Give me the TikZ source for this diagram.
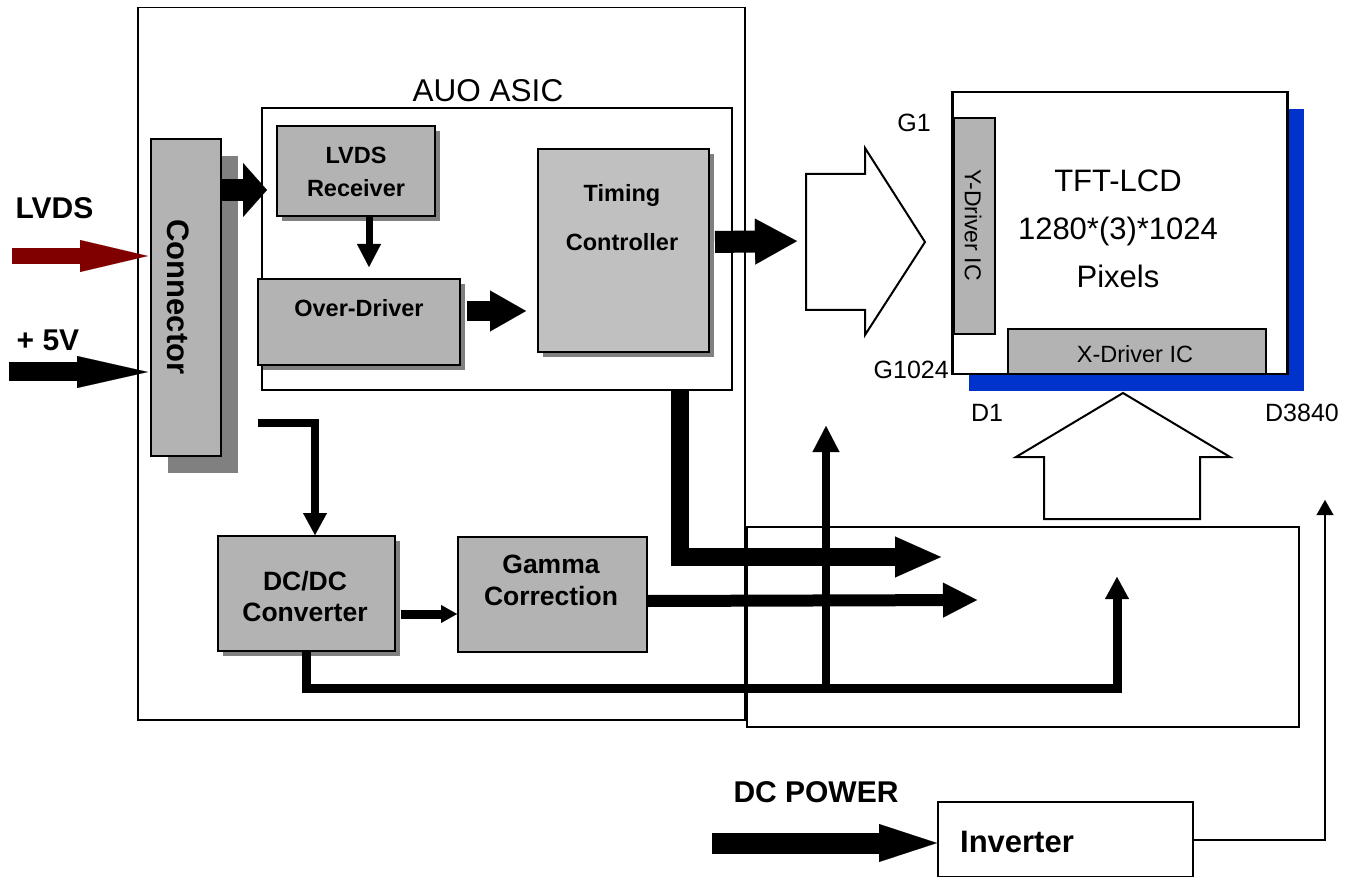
\documentclass[tikz,border=0pt]{standalone}
\usepackage{fontspec}
\setmainfont{Liberation Sans}
\usetikzlibrary{arrows.meta, positioning, shadows}
\definecolor{boxgray}{HTML}{B3B3B3}
\definecolor{tcongray}{HTML}{C0C0C0}
\definecolor{shadegray}{HTML}{808080}
\definecolor{lvdsred}{HTML}{800000}
\definecolor{panelblue}{HTML}{0033CC}
\tikzstyle{frame}=[draw,line width=1.5pt,inner sep=0pt,anchor=north west]
\tikzstyle{gbox}=[draw,line width=2pt,fill=boxgray,inner sep=0pt,anchor=north west]
\tikzstyle{blk}=[gbox,drop shadow={shadow xshift=5pt,shadow yshift=-5pt,fill=shadegray,opacity=1}]
\tikzset{lbl/.style={inner sep=0pt,text height=#1,text depth=0pt}}
\tikzset{blockarr/.style n args={3}{line width=#1pt,-{Triangle[length=#2pt,width=#3pt,line width=0.1pt]}}}
\newcommand{\boxfont}{\fontsize{23.5}{28}\selectfont\bfseries}
\newcommand{\pwrfont}{\fontsize{26.5}{31}\selectfont\bfseries}
\newcommand{\tagfont}{\fontsize{30}{36}\selectfont\bfseries}
\newcommand{\pinfont}{\fontsize{25}{30}\selectfont}
\newcommand{\lcdfont}{\fontsize{31}{36}\selectfont}

\begin{document}
\begin{tikzpicture}[x=1pt,y=-1pt]
  \useasboundingbox (0,0) rectangle (1353,877);

  % boards
  \node[frame, minimum width=607pt, minimum height=712pt] (board) at (137,7) {};
  \node[frame, line width=2pt, minimum width=470pt, minimum height=282pt] (asic) at (260.5,107.5) {};
  \node[lbl=22.6pt, font=\fontsize{31.5}{36}\selectfont] (asic-txt) at (488,90) {AUO ASIC};
  \node[frame, minimum width=552pt, minimum height=200pt] (srcbox) at (746,526) {};

  % connector
  \node[gbox, minimum width=70pt, minimum height=317pt,
        drop shadow={shadow xshift=17pt,shadow yshift=-17pt,fill=shadegray,opacity=1}] (conn) at (150,138) {};
  \node[lbl=22.2pt, font=\fontsize{31}{36}\selectfont\bfseries, rotate=-90] (conn-txt) at (179,297) {Connector};

  % asic blocks
  \node[blk, minimum width=158pt, minimum height=90pt] (lvdsrx) at (276,125.5) {};
  \node[lbl=16.8pt, font=\boxfont] (lvdsrx-a) at (356,155) {LVDS};
  \node[lbl=16.8pt, font=\boxfont, below=16pt of lvdsrx-a] (lvdsrx-b) {Receiver};
  \node[blk, minimum width=202pt, minimum height=86pt] (odrv) at (257,278) {};
  \node[lbl=16.8pt, font=\boxfont] (odrv-a) at (359,308) {Over-Driver};
  \node[blk, fill=tcongray, minimum width=171pt, minimum height=203pt] (tcon) at (537,148) {};
  \node[lbl=16.8pt, font=\boxfont] (tcon-a) at (622,193) {Timing};
  \node[lbl=16.8pt, font=\boxfont, below=32pt of tcon-a] (tcon-b) {Controller};

  % power blocks
  \node[blk, minimum width=177pt, minimum height=115pt] (dcdc) at (217,535) {};
  \node[lbl=19pt, font=\pwrfont] (dcdc-a) at (305,581) {DC/DC};
  \node[lbl=19pt, font=\pwrfont, below=12pt of dcdc-a] (dcdc-b) {Converter};
  \node[gbox, minimum width=189pt, minimum height=115pt] (gamma) at (457,536) {};
  \node[lbl=19pt, font=\pwrfont] (gamma-a) at (551,564) {Gamma};
  \node[lbl=19pt, font=\pwrfont, below=13pt of gamma-a] (gamma-b) {Correction};

  % panel
  \node[frame, line width=2.5pt, fill=white, minimum width=335pt, minimum height=282pt,
        drop shadow={shadow xshift=17pt,shadow yshift=-17pt,fill=panelblue,opacity=1}] (panel) at (951,91) {};
  \node[gbox, minimum width=41pt, minimum height=216pt] (ydrv) at (952.5,117) {};
  \node[lbl=16.5pt, font=\fontsize{23}{28}\selectfont, rotate=-90] (ydrv-txt) at (973,225) {Y-Driver IC};
  \node[gbox, minimum width=258pt, minimum height=45pt] (xdrv) at (1006.5,328) {};
  \node[lbl=16.8pt, font=\fontsize{23.5}{28}\selectfont] (xdrv-txt) at (1135,354) {X-Driver IC};
  \node[lbl=22.2pt, font=\lcdfont] (panel-a) at (1118,180) {TFT-LCD};
  \node[lbl=22.2pt, font=\lcdfont, below=25.5pt of panel-a] (panel-b) {1280*(3)*1024};
  \node[lbl=22.2pt, font=\lcdfont, below=25.5pt of panel-b] (panel-c) {Pixels};
  \node[lbl=17.9pt, font=\pinfont, anchor=east] (g-first) at (931,123) {G1};
  \node[lbl=17.9pt, font=\pinfont, anchor=east] (g-last) at (949,370) {G1024};
  \node[lbl=17.9pt, font=\pinfont] (d-first) at (987,413) {D1};
  \node[lbl=17.9pt, font=\pinfont] (d-last) at (1302,413) {D3840};

  % inverter
  \node[frame, line width=2pt, minimum width=255pt, minimum height=75pt] (inv) at (937,801) {};
  \node[lbl=22.2pt, font=\fontsize{31}{36}\selectfont\bfseries] (inv-txt) at (1017,841.5) {Inverter};

  % outside labels
  \node[lbl=21.5pt, font=\tagfont] (lvds-txt) at (54.5,208) {LVDS};
  \node[lbl=21.5pt, font=\tagfont] (pwr-txt) at (48,340) {+ 5V};
  \node[lbl=21.5pt, font=\tagfont] (dcp-txt) at (816,792) {DC POWER};

  % hollow bus arrows
  \draw[line width=2pt] (806,174) -- (865,174) -- (865,148) -- (925,242) -- (865,335) -- (865,310) -- (806,310) -- cycle;
  \draw[line width=2pt] (1044,519) -- (1044,457) -- (1016,457) -- (1123,393) -- (1230,457) -- (1200,457) -- (1200,519) -- cycle;

  % free ends
  \coordinate (lvds-src) at (12,256);
  \coordinate (pwr-src) at (9,372);
  \coordinate (conn-out) at ([yshift=-52pt]conn.north east);
  \coordinate (rx-out) at ([xshift=13pt]lvdsrx.south);
  \coordinate (od-out) at ([yshift=11pt]odrv.east);
  \coordinate (tc-out) at ([yshift=8.5pt]tcon.east);
  \coordinate (yin) at (806,241);
  \coordinate (tc-down) at ([xshift=183pt]asic.south);
  \coordinate (src-a) at (941,557);
  \coordinate (gm-out) at ([yshift=-6.5pt]gamma.east);
  \coordinate (src-b) at (977,600);
  \coordinate (pwr-tap) at (258,423);
  \coordinate (dc-in) at ([xshift=8.5pt]dcdc.north);
  \coordinate (dc-out) at ([yshift=-20.5pt]dcdc.east);
  \coordinate (bus-turn) at (1117,688);
  \coordinate (bus-end) at (1117,577);
  \coordinate (bus-tap) at (826,692);
  \coordinate (gate-in) at (826,426);
  \coordinate (dcp-src) at (712,843);
  \coordinate (inv-out) at ([yshift=-0.5pt]inv.east);
  \coordinate (lamp) at (1325,500);

  % signal arrows
  \draw[blockarr={16}{68}{32}, lvdsred, shorten >=2pt] (lvds-src) -- (lvds-src -| conn.west);
  \draw[blockarr={19}{71}{32}, shorten >=2pt] (pwr-src) -- (pwr-src -| conn.west);
  \draw[blockarr={22}{24}{54}, shorten >=9pt] (conn-out) -- (conn-out -| lvdsrx.west);
  \draw[blockarr={7}{23}{24}, shorten >=11pt] (rx-out) -- (rx-out |- odrv.north);
  \draw[blockarr={20}{36}{41}, shorten <=6pt, shorten >=11pt] (od-out) -- (od-out -| tcon.west);
  \draw[blockarr={22}{42}{46}, shorten <=5pt, shorten >=9pt] (tc-out) -- (yin);
  \draw[blockarr={18}{46}{41}] (tc-down) |- (src-a);
  \draw[blockarr={12}{34}{35}] (gm-out) -- (src-b);

  % power arrows
  \draw[blockarr={8}{22}{24}] (pwr-tap) -| (dc-in);
  \draw[blockarr={9}{16}{18}, shorten <=5pt] (dc-out) -- (dc-out -| gamma.west);
  \draw[blockarr={9}{22}{24}] (dcdc.south) |- (bus-turn) -- (bus-end);
  \draw[blockarr={8}{26}{27}] (bus-tap) -- (gate-in);
  \draw[blockarr={21}{58}{38}] (dcp-src) -- (dcp-src -| inv.west);
  \draw[blockarr={2}{15}{17}] (inv-out) -| (lamp);
\end{tikzpicture}
\end{document}
